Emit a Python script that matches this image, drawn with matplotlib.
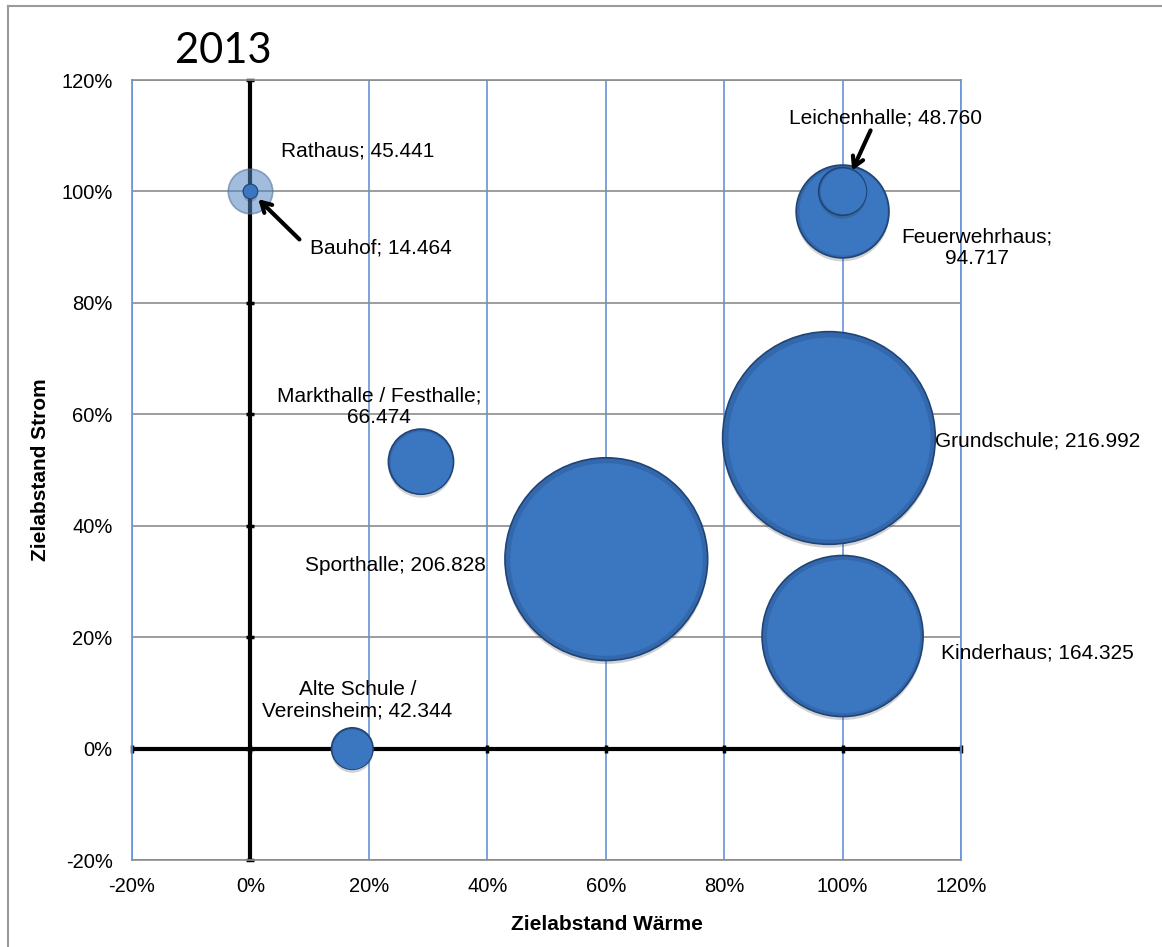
import numpy as np
import matplotlib
matplotlib.use("Agg")
import matplotlib.pyplot as plt
import matplotlib.ticker as mticker
import matplotlib.patheffects as pe
from matplotlib.lines import Line2D

plt.rcParams.update({
    "font.family": ["Liberation Sans", "DejaVu Sans"],
    "axes.unicode_minus": False,
})

# ── data (Zielabstand Wärme / Strom as fractions, bubble value) ──
names = ["Rathaus", "Bauhof", "Leichenhalle", "Feuerwehrhaus",
         "Markthalle / Festhalle", "Grundschule", "Sporthalle",
         "Kinderhaus", "Alte Schule / Vereinsheim"]
waerme = [0.00, 0.00, 1.00, 1.00, 0.288, 0.977, 0.601, 1.00, 0.172]
strom = [1.00, 1.00, 1.00, 0.964, 0.515, 0.5575, 0.340, 0.202, 0.00]
values = [45.441, 14.464, 48.760, 94.717, 66.474, 216.992, 206.828,
          164.325, 42.344]
label_text = ["Rathaus; 45.441", "Bauhof; 14.464", "Leichenhalle; 48.760",
              "Feuerwehrhaus;\n94.717", "Markthalle / Festhalle;\n66.474",
              "Grundschule; 216.992", "Sporthalle; 206.828",
              "Kinderhaus; 164.325", "Alte Schule /\nVereinsheim; 42.344"]
ticks = [-0.2, 0.0, 0.2, 0.4, 0.6, 0.8, 1.0, 1.2]

# label placement: (dx px, dy px, ha)
LABEL_POS = {
    "Rathaus":                   (31, 40, "left"),
    "Bauhof":                    (60, -57, "left"),
    "Leichenhalle":              (43, 73, "center"),
    "Feuerwehrhaus":             (134, -36, "center"),
    "Markthalle / Festhalle":    (-42, 55, "center"),
    "Grundschule":               (106, -3, "left"),
    "Sporthalle":                (-120, -6, "right"),
    "Kinderhaus":                (98, -17, "left"),
    "Alte Schule / Vereinsheim": (5, 48, "center"),
}
# arrows: name -> (tail dx px, tail dy px, gap at tip px)
ARROWS = {
    "Bauhof":       (49, -48, 11),
    "Leichenhalle": (28, 61, 23),
}

W, H = 1162, 947
PX = 0.72  # points per pixel at dpi 100

fig = plt.figure(figsize=(W / 100, H / 100), dpi=100)
ax = fig.add_axes([132 / W, (H - 860) / H, 829 / W, 780 / H])

ax.set_xlim(-0.2, 1.2)
ax.set_ylim(-0.2, 1.2)
ax.set_xticks(ticks)
ax.set_yticks(ticks)
fmt = mticker.PercentFormatter(1.0, decimals=0)
ax.xaxis.set_major_formatter(fmt)
ax.yaxis.set_major_formatter(fmt)
ax.tick_params(length=0, labelsize=14.5, colors="black")
ax.tick_params(axis="y", pad=14)
ax.tick_params(axis="x", pad=12)

# grid: vertical blue, horizontal gray
for t in ticks:
    ax.axvline(t, color="#6794d6", lw=1.2, zorder=1)
    ax.axhline(t, color="#8c8c8c", lw=1.2, zorder=1)
for side in ["left", "right"]:
    ax.spines[side].set_color("#6794d6")
    ax.spines[side].set_linewidth(1.2)
for side in ["top", "bottom"]:
    ax.spines[side].set_color("#8c8c8c")
    ax.spines[side].set_linewidth(1.2)

# thick crossing axes with small tick stubs
ax.axhline(0, color="black", lw=3.0, zorder=2)
ax.axvline(0, color="black", lw=3.0, zorder=2)
ax.plot(np.zeros(len(ticks)), ticks, ls="none", marker="_", ms=6, mew=2.5,
        color="black", zorder=2, clip_on=False)
ax.plot(ticks, np.zeros(len(ticks)), ls="none", marker="|", ms=6, mew=2.5,
        color="black", zorder=2, clip_on=False)

# bubbles: diameter proportional to value (Excel "width" sizing)
vals = np.array(values)
diam = 0.7056 * vals
shadow = [pe.SimplePatchShadow(offset=(0, -2.5), alpha=0.22,
                               shadow_rgbFace=(0.2, 0.2, 0.2)), pe.Normal()]
z = 3.0
for i in np.argsort(-vals):
    x, y = waerme[i], strom[i]
    if names[i] == "Rathaus":
        ax.scatter([x], [y], s=diam[i] ** 2, color=(0.33, 0.52, 0.76, 0.55),
                   edgecolors=(0.35, 0.45, 0.60, 0.6), linewidths=1.2,
                   zorder=z)
        z += 0.1
        continue
    base = ax.scatter([x], [y], s=diam[i] ** 2, color="#3468ad",
                      edgecolors="#1f4475", linewidths=1.2, zorder=z)
    base.set_path_effects(shadow)
    ax.scatter([x], [y], s=(diam[i] * 0.95) ** 2, color="#3b77c1",
               linewidths=0, zorder=z + 0.05)
    z += 0.1

# data labels
for n, x, y, txt in zip(names, waerme, strom, label_text):
    dx, dy, ha = LABEL_POS[n]
    ax.annotate(txt, (x, y), textcoords="offset points",
                xytext=(dx * PX, dy * PX), ha=ha, va="center",
                fontsize=15, zorder=5, linespacing=1.15)

for n, (tx, ty, gap) in ARROWS.items():
    i = names.index(n)
    ax.annotate("", xy=(waerme[i], strom[i]), textcoords="offset points",
                xytext=(tx * PX, ty * PX),
                arrowprops=dict(arrowstyle="->,head_length=0.7,head_width=0.4",
                                lw=3, color="black", shrinkA=0,
                                shrinkB=gap * PX),
                zorder=6)

ax.set_xlabel("Zielabstand Wärme", fontsize=15, fontweight="bold")
ax.xaxis.set_label_coords((607 - 132) / 829, (860 - 924) / 780)
ax.xaxis.label.set_va("center")
ax.set_ylabel("Zielabstand Strom", fontsize=15, fontweight="bold")
ax.yaxis.set_label_coords((41 - 132) / 829, 0.5)
ax.yaxis.label.set_va("center")

fig.text(175 / W, (H - 63) / H, "2013", fontsize=30, family=["Lato", "DejaVu Sans"],
         va="baseline", ha="left")

# outer chart frame (left / top visible)
fig.add_artist(Line2D([8 / W, 8 / W], [0, (H - 6) / H], color="#9a9a9a", lw=1.5,
                      transform=fig.transFigure))
fig.add_artist(Line2D([8 / W, 1], [(H - 6) / H, (H - 6) / H], color="#9a9a9a", lw=1.5,
                      transform=fig.transFigure))

fig.savefig("out.png", dpi=100)
